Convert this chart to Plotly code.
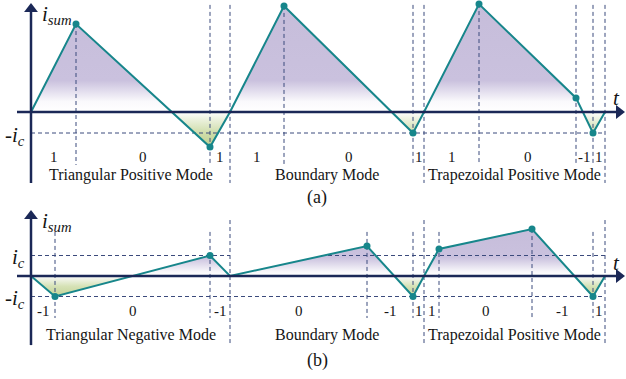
import plotly.graph_objects as go

# ---------------------------------------------------------------------------
# Data: switching sequences of the summed current i_sum (units of i_c)
# ---------------------------------------------------------------------------
# (a) positive-side modes
t_a = [0, 4.5, 17.9, 19.9, 25.3, 38.2, 39.3, 44.8, 54.5, 56.2, 57.4]
i_a = [0, 4.19, -1.67, 0, 5.05, -1.0, 0, 5.14, 0.67, -1.0, 0]
states_a = ["1", "0", "1", "1", "0", "1", "1", "0", "-1", "1"]
modes_a = ["Triangular Positive Mode", "Boundary Mode", "Trapezoidal Positive Mode"]

# (b) negative-side modes
t_b = [0, 2.4, 17.9, 19.9, 33.6, 38.2, 39.3, 40.8, 50.1, 56.2, 57.4]
i_b = [0, -1.0, 1.0, 0, 1.46, -1.0, 0, 1.32, 2.29, -1.0, 0]
states_b = ["-1", "0", "-1", "0", "-1", "1", "1", "0", "-1", "1"]
modes_b = ["Triangular Negative Mode", "Boundary Mode", "Trapezoidal Positive Mode"]

# vertex indices bounding each mode
mode_edges = [0, 3, 6, 10]

# ---------------------------------------------------------------------------
# Styling
# ---------------------------------------------------------------------------
NAVY = "#1b2857"
TEAL = "#17868b"
GUIDE = "#3b4a7c"
TXT = "#151515"
FONT = "Liberation Serif, Times New Roman, serif"
GUIDE_DASH = "4px,3px"

W, H = 626, 379
SPLIT = 1 - 200 / H
PX_PER_T = 10.0  # horizontal pixels per time unit

fig = go.Figure()
annotations = []


def line_trace(xs, ys, xaxis, yaxis, **line):
    return go.Scatter(x=xs, y=ys, mode="lines", xaxis=xaxis, yaxis=yaxis,
                      line=line, hoverinfo="skip", showlegend=False)


def panel(t, cur, states, modes, ax, cfg):
    xa, ya = ax
    px_per_i = cfg["px_per_i"]

    # gradient fill between the waveform and the t axis
    lo, hi = cfg["grad_range"]
    scale = [[(v - lo) / (hi - lo), c] for v, c in cfg["grad_stops"]]
    fig.add_trace(go.Scatter(
        x=t, y=cur, xaxis=xa, yaxis=ya, mode="lines", fill="tozeroy",
        line=dict(width=0), fillgradient=dict(type="vertical", start=lo, stop=hi,
                                              colorscale=scale),
        hoverinfo="skip", showlegend=False))

    # horizontal guides at the current levels
    xs, ys = [], []
    for lvl, spans in cfg["levels"]:
        for a, b in spans:
            xs += [a, b, None]
            ys += [lvl, lvl, None]
    # vertical guides at each switching instant
    for k in range(1, len(t) - 1):
        if k in mode_edges:
            continue
        xs += [t[k], t[k], None]
        ys += [cfg["vtop"](k, cur), cfg["vbottom"], None]
    # mode boundaries
    for k in mode_edges[1:]:
        xs += [t[k], t[k], None]
        ys += [cfg["mtop"], cfg["mbottom"], None]
    fig.add_trace(line_trace(xs, ys, xa, ya, color=GUIDE, width=1, dash=GUIDE_DASH))

    # waveform and switching points
    fig.add_trace(line_trace(t, cur, xa, ya, color=TEAL, width=2))
    pts = [k for k in range(len(t)) if cur[k] != 0]
    fig.add_trace(go.Scatter(x=[t[k] for k in pts], y=[cur[k] for k in pts],
                             xaxis=xa, yaxis=ya, mode="markers",
                             marker=dict(color=TEAL, size=7),
                             hoverinfo="skip", showlegend=False))

    # axes: shafts and arrowheads
    head = 6.0  # pixel offset from tip to arrowhead centre
    fig.add_trace(line_trace([0, 0], [cfg["ybase"], cfg["ytip"] - 8 / px_per_i],
                             xa, ya, color=NAVY, width=2.5))
    fig.add_trace(line_trace([-1.4, 59.4 - 8 / PX_PER_T], [0, 0],
                             xa, ya, color=NAVY, width=2.5))
    fig.add_trace(go.Scatter(
        x=[0], y=[cfg["ytip"] - head / px_per_i], xaxis=xa, yaxis=ya, mode="markers",
        marker=dict(symbol="triangle-up", size=12, color=NAVY, line=dict(width=0)),
        hoverinfo="skip", showlegend=False))
    fig.add_trace(go.Scatter(
        x=[59.4 - head / PX_PER_T], y=[0], xaxis=xa, yaxis=ya, mode="markers",
        marker=dict(symbol="triangle-right", size=12, color=NAVY, line=dict(width=0)),
        hoverinfo="skip", showlegend=False))

    xref, yref = xa, ya

    def label(x, y, text, size, **kw):
        d = dict(x=x, y=y, xref=xref, yref=yref, text=text, showarrow=False,
                 font=dict(family=FONT, size=size, color=TXT),
                 xanchor="center", yanchor="middle")
        d.update(kw)
        annotations.append(d)

    # switching-state labels
    for k, s in enumerate(states):
        label((t[k] + t[k + 1]) / 2, cfg["state_y"], s, 15)
    # mode names
    for m, name in enumerate(modes):
        label((t[mode_edges[m]] + t[mode_edges[m + 1]]) / 2, cfg["mode_y"], name, 16)
    label((t[0] + t[-1]) / 2 - 0.1, cfg["cap_y"], cfg["caption"], 18)

    # axis titles
    label(0.9, cfg["isum_y"], "<i>i</i><sub><i>sum</i></sub>", 21, xanchor="left")
    label(58.5, cfg["t_y"], "<i>t</i>", 21)
    for lvl, txt in cfg["lvl_labels"]:
        label(-0.45, lvl - 0.12, txt, 21, xanchor="right")


panel(t_a, i_a, states_a, modes_a, ("x", "y"), dict(
    px_per_i=21.0,
    grad_range=(-1.7, 5.2),
    grad_stops=[(-1.7, "rgb(190,208,142)"), (-1.0, "rgb(207,221,170)"),
                (-0.3, "rgb(238,243,226)"), (0.0, "rgb(255,255,255)"),
                (0.5, "rgb(250,249,252)"), (1.5, "rgb(202,193,222)"),
                (5.2, "rgb(198,189,218)")],
    levels=[(-1.0, [(t_a[0], t_a[-1])])],
    vtop=lambda k, c: c[k] if (c[k] > c[k - 1] and c[k] > c[k + 1] and c[k] > 0) else 5.1,
    vbottom=-2.52, mtop=5.1, mbottom=-3.38,
    ytip=5.19, ybase=-3.38,
    state_y=-2.14, mode_y=-3.0, cap_y=-4.05, caption="(a)",
    isum_y=4.62, t_y=0.67,
    lvl_labels=[(-1.0, "-<i>i</i><sub><i>c</i></sub>")],
))

panel(t_b, i_b, states_b, modes_b, ("x2", "y2"), dict(
    px_per_i=20.5,
    grad_range=(-1.05, 2.35),
    grad_stops=[(-1.05, "rgb(192,210,146)"), (-0.5, "rgb(214,226,182)"),
                (-0.1, "rgb(244,246,238)"), (0.0, "rgb(255,255,255)"),
                (0.2, "rgb(249,248,251)"), (0.9, "rgb(202,193,222)"),
                (2.35, "rgb(198,189,218)")],
    levels=[(1.0, [(t_b[0], t_b[3]), (29.0, t_b[-1])]),
            (-1.0, [(t_b[0], t_b[-1])])],
    vtop=lambda k, c: max(2.15, c[k]),
    vbottom=-2.05, mtop=2.73, mbottom=-3.37,
    ytip=3.22, ybase=-3.37,
    state_y=-1.71, mode_y=-2.88, cap_y=-4.10, caption="(b)",
    isum_y=2.62, t_y=0.63,
    lvl_labels=[(1.0, "<i>i</i><sub><i>c</i></sub>"),
                (-1.0, "-<i>i</i><sub><i>c</i></sub>")],
))

hidden = dict(visible=False, fixedrange=True)
fig.update_layout(
    width=W, height=H,
    margin=dict(l=0, r=0, t=0, b=0),
    paper_bgcolor="white", plot_bgcolor="white",
    showlegend=False,
    xaxis=dict(domain=[0, 1], range=[-3.1, 59.5], anchor="y", **hidden),
    yaxis=dict(domain=[SPLIT, 1], range=[-88 / 21, 112 / 21], anchor="x", **hidden),
    xaxis2=dict(domain=[0, 1], range=[-3.1, 59.5], anchor="y2", **hidden),
    yaxis2=dict(domain=[0, SPLIT], range=[-103 / 20.5, 76 / 20.5], anchor="x2", **hidden),
    annotations=annotations,
)

fig.write_html("out.html")
